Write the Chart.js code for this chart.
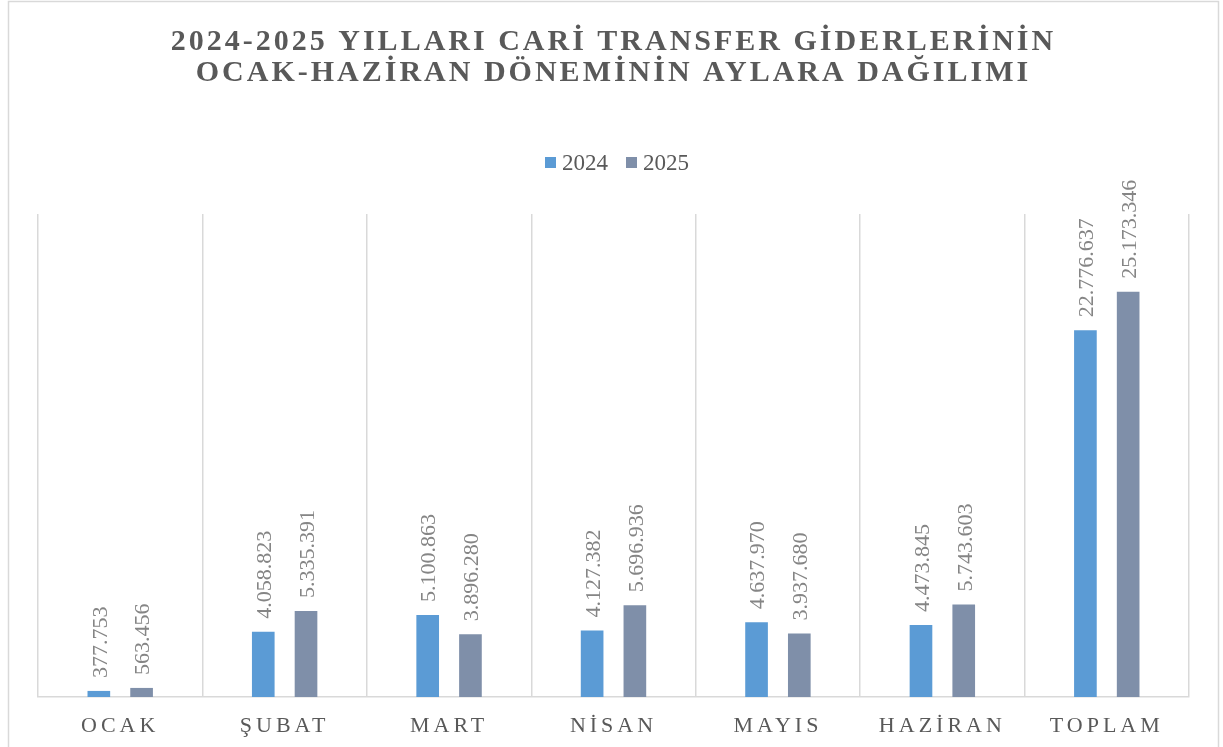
<!DOCTYPE html>
<html>
<head>
<meta charset="utf-8">
<script src="https://cdn.jsdelivr.net/npm/chart.js@4/dist/chart.umd.min.js"></script>
<style>
  html, body { margin: 0; padding: 0; background: #fff; }
  #wrap { width: 1223px; height: 747px; position: relative; }
</style>
</head>
<body>
<div id="wrap"><canvas id="c"></canvas></div>
<script>
const titleLines = ['2024-2025 YILLARI CARİ TRANSFER GİDERLERİNİN', 'OCAK-HAZİRAN DÖNEMİNİN AYLARA DAĞILIMI'];
const categories = ['OCAK', 'ŞUBAT', 'MART', 'NİSAN', 'MAYIS', 'HAZİRAN', 'TOPLAM'];
const seriesNames = ['2024', '2025'];
const values2024 = [377753, 4058823, 5100863, 4127382, 4637970, 4473845, 22776637];
const values2025 = [563456, 5335391, 3896280, 5696936, 3937680, 5743603, 25173346];

const colors = ['#5B9BD5', '#7F8FA9'];
const serif = '"Liberation Serif", "Times New Roman", serif';

// 1234567 -> "1.234.567"
function fmt(v) {
  return String(v).replace(/\B(?=(\d{3})+(?!\d))/g, '.');
}

// title, legend, frame and the rotated value labels
const decor = {
  id: 'decor',
  beforeDraw(chart) {
    // spaced letters for the category ticks
    chart.ctx.letterSpacing = '4px';
  },
  beforeDatasetsDraw(chart) {
    chart.ctx.letterSpacing = '0px';
  },
  afterDatasetsDraw(chart) {
    const ctx = chart.ctx;
    ctx.save();
    ctx.fillStyle = '#858585';
    ctx.font = '22px ' + serif;
    ctx.textAlign = 'left';
    ctx.textBaseline = 'middle';
    chart.data.datasets.forEach((ds, i) => {
      chart.getDatasetMeta(i).data.forEach((bar, j) => {
        ctx.save();
        ctx.translate(bar.x + 2, bar.y - 13);
        ctx.rotate(-Math.PI / 2);
        ctx.fillText(fmt(ds.data[j]), 0, 0);
        ctx.restore();
      });
    });
    ctx.restore();
  },
  afterDraw(chart) {
    const ctx = chart.ctx;
    ctx.save();
    // outer frame
    ctx.strokeStyle = '#d9d9d9';
    ctx.lineWidth = 1.5;
    ctx.strokeRect(8.5, 1.5, 1210, 800);

    // title
    ctx.fillStyle = '#595959';
    ctx.font = 'bold 30px ' + serif;
    ctx.letterSpacing = '3px';
    ctx.textAlign = 'center';
    ctx.textBaseline = 'middle';
    ctx.fillText(titleLines[0], 612 + 1.5, 42);
    ctx.fillText(titleLines[1], 612 + 1.5, 73);
    ctx.letterSpacing = '0px';

    // legend
    ctx.font = '23px ' + serif;
    ctx.textAlign = 'left';
    const lx = [545, 626];
    seriesNames.forEach((name, i) => {
      ctx.fillStyle = colors[i];
      ctx.fillRect(lx[i], 157, 11, 11);
      ctx.fillStyle = '#595959';
      ctx.fillText(name, lx[i] + 17, 164);
    });
    ctx.restore();
  }
};

new Chart(document.getElementById('c'), {
  type: 'bar',
  data: {
    labels: categories,
    datasets: [
      { label: seriesNames[0], data: values2024, backgroundColor: colors[0] },
      { label: seriesNames[1], data: values2025, backgroundColor: colors[1] }
    ]
  },
  options: {
    responsive: true,
    maintainAspectRatio: false,
    animation: false,
    categoryPercentage: 0.52,
    barPercentage: 0.53,
    layout: { padding: { left: 38, right: 34, top: 214, bottom: 0 } },
    plugins: {
      legend: { display: false },
      title: { display: false },
      tooltip: { enabled: false }
    },
    scales: {
      x: {
        grid: { color: '#d9d9d9', lineWidth: 1.5, drawTicks: false, offset: true },
        border: { color: '#d9d9d9', width: 1.5 },
        ticks: { color: '#595959', font: { family: serif, size: 22 }, padding: 16 },
        afterFit(scale) { scale.height = 50; }
      },
      y: {
        display: false,
        min: 0,
        max: 30000000
      }
    }
  },
  plugins: [decor]
});
</script>
</body>
</html>
